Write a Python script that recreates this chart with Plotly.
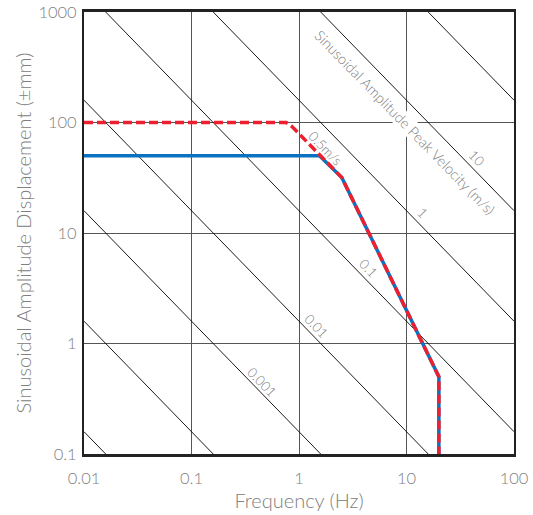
import math
import plotly.graph_objects as go

# ---- data ----
x_ticks = [0.01, 0.1, 1, 10, 100]
x_tick_labels = ["0.01", "0.1", "1", "10", "100"]
y_ticks = [0.1, 1, 10, 100, 1000]
y_tick_labels = ["0.1", "1", "10", "100", "1000"]

# constant-velocity reference lines (m/s)
velocities = [1e-5, 1e-4, 1e-3, 1e-2, 0.1, 1, 10, 100]
freq_span = [0.01, 100]

# velocity labels: text, frequency (Hz), displacement (mm)
vel_label_text = ["0.001", "0.01", "0.1", "1", "10", "0.5m/s",
                  "Sinusoidal Amplitude Peak Velocity (m/s)"]
vel_label_f = [0.453, 1.45, 4.41, 14.2, 45.1, 1.75, 9.73]
vel_label_d = [0.451, 1.44, 4.82, 15.3, 48.0, 58.8, 101]

# performance envelopes
blue_f = [0.01, 1.55, 2.5, 20, 20]
blue_d = [50, 50, 31.8, 0.5, 0.09]
red_f = [0.01, 0.76, 0.86, 2.5, 20, 20]
red_d = [100, 100, 92, 31.8, 0.5, 0.09]

FONT = "Lato"
GRAY = "#808080"

fig = go.Figure()

for v in velocities:
    fig.add_trace(go.Scatter(
        x=freq_span,
        y=[v * 1000 / (2 * math.pi * f) for f in freq_span],
        mode="lines", line=dict(color="black", width=0.9),
        hoverinfo="skip", showlegend=False))

fig.add_trace(go.Scatter(x=blue_f, y=blue_d, mode="lines",
                         line=dict(color="#0a72c0", width=3.5),
                         showlegend=False))
fig.add_trace(go.Scatter(x=red_f, y=red_d, mode="lines",
                         line=dict(color="#ee2030", width=3.5, dash="9px,4px"),
                         showlegend=False))

angle = math.degrees(math.atan((442 / 4) / (430.5 / 4)))
for t, f, d in zip(vel_label_text, vel_label_f, vel_label_d):
    fig.add_annotation(x=math.log10(f), y=math.log10(d), text=t,
                       showarrow=False, textangle=angle,
                       font=dict(family=FONT, size=14.5 if len(t) > 10 else 13.5,
                                 color=GRAY, weight=300),
                       bgcolor="white" if len(t) > 10 else "rgba(0,0,0,0)",
                       borderpad=0)

fig.update_xaxes(type="log", range=[-2, 2], tickvals=x_ticks, ticktext=x_tick_labels,
                 showgrid=True, gridcolor="#555555", gridwidth=1.3,
                 showline=True, linecolor="#222222", linewidth=2.5, mirror=True,
                 ticks="", ticklabelstandoff=7, automargin=False,
                 ticklabeloverflow="allow",
                 tickfont=dict(family=FONT, size=16.5, color=GRAY, weight=300),
                 title=dict(text="Frequency (Hz)",
                            font=dict(family=FONT, size=20, color=GRAY, weight=300),
                            standoff=8),
                 zeroline=False)
fig.update_yaxes(type="log", range=[-1, 3], tickvals=y_ticks, ticktext=y_tick_labels,
                 showgrid=True, gridcolor="#555555", gridwidth=1.3,
                 showline=True, linecolor="#222222", linewidth=2, mirror=True,
                 ticks="", ticklabelstandoff=2, automargin=False,
                 ticklabeloverflow="allow",
                 tickfont=dict(family=FONT, size=16.5, color=GRAY, weight=300),
                 title=dict(text="Sinusoidal Amplitude Displacement (±mm)",
                            font=dict(family=FONT, size=20, color=GRAY, weight=300),
                            standoff=1),
                 zeroline=False)

fig.update_layout(width=533, height=515,
                  margin=dict(l=83.5, r=19, t=12, b=61, autoexpand=False),
                  plot_bgcolor="white", paper_bgcolor="white",
                  showlegend=False, hovermode=False)

# remove the default page margin so the 533x515 figure fills the window exactly
fig.write_html("out.html",
               config={"displayModeBar": False},
               post_script="document.body.style.margin='0';"
                           "document.body.style.overflow='hidden';")
